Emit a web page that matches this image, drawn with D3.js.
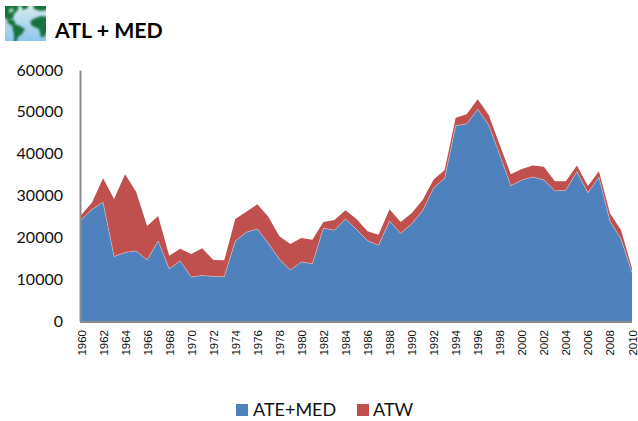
<!DOCTYPE html>
<html><head><meta charset="utf-8">
<style>html,body{margin:0;padding:0;background:#fff}svg{display:block}</style>
<script src="https://cdn.jsdelivr.net/npm/d3@7/dist/d3.min.js"></script>
</head><body><svg id="c" width="638" height="421"></svg>
<script>
const years=d3.range(1960,2011);
const ateMed=[24150,26700,28400,15400,16400,16750,14600,19100,12500,14350,10500,10900,10650,10600,19100,21200,22000,18600,14750,12200,14100,13700,22200,21700,24400,21900,19200,18100,23900,20950,23200,26350,31800,34100,46700,47100,50600,46850,39700,32350,33700,34400,33700,31100,31250,35700,30650,34350,23900,19600,11550];
const atw=[1150,1600,5700,13750,18650,14150,8100,6000,3100,2950,5500,6500,3950,3900,5300,4900,5900,6350,5500,6200,5750,5700,1450,2450,2050,2500,2250,2500,2800,2700,2550,2550,2050,2000,1900,2300,2400,2400,2350,2700,2650,2800,3200,2300,2150,1500,1650,1450,1850,2150,1050];
const legendNames=["ATE+MED","ATW"];
const colors=["#4f81bd","#c0504d"];
const yTicks=[0,10000,20000,30000,40000,50000,60000];
const titleText="ATL + MED";

const svg=d3.select("#c");
const x=d3.scaleLinear().domain([1960,2010]).range([81,632]);
const y=d3.scaleLinear().domain([0,60000]).range([321,70]);
const rows=years.map((yr,i)=>({yr,a:ateMed[i],b:atw[i]}));
const series=d3.stack().keys(["a","b"])(rows);
const area=d3.area().x(d=>x(d.data.yr)).y0(d=>y(d[0])).y1(d=>y(d[1]));
svg.selectAll("path.s").data(series).join("path").attr("class","s")
  .attr("d",area).attr("fill",(d,i)=>colors[i]);
const topLine=d3.line().x(d=>x(d.data.yr)).y(d=>y(d[1]));
svg.append("path").attr("d",topLine(series[0])).attr("fill","none").attr("stroke","#fff").attr("stroke-opacity",0.4).attr("stroke-width",0.8);

const font="Lato, Carlito, sans-serif";
const yAxis=d3.axisLeft(y).tickValues(yTicks).tickFormat(d3.format("d")).tickSize(0).tickPadding(17);
const gy=svg.append("g").attr("transform","translate(80,0)").call(yAxis);
gy.select(".domain").attr("stroke","#8c8c8c").attr("stroke-width",2);
gy.selectAll("text").attr("font-family",font).attr("font-size",16).attr("fill","#111");
const xAxis=d3.axisBottom(x).tickValues(years.filter(v=>v%2===0)).tickFormat(d3.format("d")).tickSize(0);
const gx=svg.append("g").attr("transform","translate(0,322)").call(xAxis);
gx.select(".domain").attr("stroke","#8c8c8c").attr("stroke-width",2).attr("d","M80,0H632");
gx.selectAll("text").attr("font-family","Liberation Sans, sans-serif").attr("font-size",11.5).attr("fill","#111")
  .attr("transform","rotate(-90)").attr("text-anchor","end").attr("x",-8).attr("y",0).attr("dy","0.35em");

svg.append("text").attr("x",55).attr("y",38).text(titleText)
  .attr("font-family",font).attr("font-weight",700).attr("font-size",21.3).attr("fill","#000");

const lg=svg.append("g");
[[236,253],[357,373]].forEach((p,i)=>{
  lg.append("rect").attr("x",p[0]).attr("y",404).attr("width",12).attr("height",12).attr("fill",colors[i]);
  lg.append("text").attr("x",p[1]).attr("y",415.5).text(legendNames[i]).attr("font-family",font).attr("font-size",18).attr("fill","#111");
});

// globe icon
const defs=svg.append("defs");
const g=defs.append("linearGradient").attr("id","sky").attr("x1",0).attr("y1",0).attr("x2",0).attr("y2",1);
g.append("stop").attr("offset",0).attr("stop-color","#d6eaee");
g.append("stop").attr("offset",1).attr("stop-color","#8fc6ee");
defs.append("filter").attr("id","bl").append("feGaussianBlur").attr("stdDeviation",0.8);
defs.append("clipPath").attr("id","ic").append("rect").attr("width",41).attr("height",35);
const ic=svg.append("g").attr("transform","translate(5,6)").attr("clip-path","url(#ic)");
ic.append("rect").attr("width",41).attr("height",35).attr("fill","url(#sky)");
const land=ic.append("g").attr("filter","url(#bl)");
["M-2,-2H14L13,4L9,8L8,13L3,14L-2,11Z",
 "M2,14L9,14L11,19L7,20L3,17Z",
 "M15,-2H23V2L18,4Z",
 "M28,-2H43V4L35,5L29,3Z",
 "M7,19L13,19L20,23L17,28L13,31L11,37H9L9,29Z",
 "M28,13L36,10L43,11V24L39,31H36L34,23L27,20L25,16Z"
].forEach(d=>land.append("path").attr("d",d).attr("fill","#16733a"));
ic.append("path").attr("d","M4,3L9,2L8,6L4,7Z").attr("fill","#9ccdb0").attr("filter","url(#bl)");
</script></body></html>
